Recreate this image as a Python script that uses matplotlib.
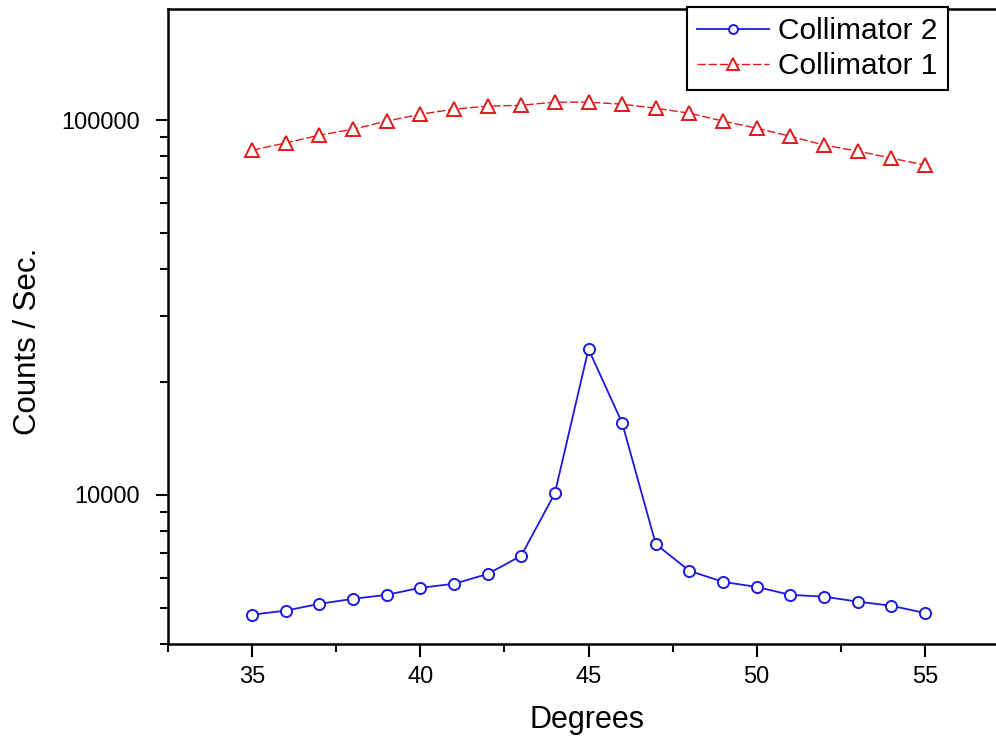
import matplotlib
matplotlib.use("Agg")
import matplotlib.pyplot as plt
from matplotlib.ticker import FixedLocator, LogLocator, NullFormatter, FuncFormatter

plt.rcParams['font.family'] = ['Liberation Sans', 'DejaVu Sans']

degrees = [35, 36, 37, 38, 39, 40, 41, 42, 43, 44, 45, 46, 47, 48, 49, 50, 51, 52, 53, 54, 55]
collimator2 = [4790, 4910, 5120, 5280, 5410, 5650, 5790, 6150, 6880, 10100, 24500, 15560,
               7390, 6270, 5860, 5680, 5410, 5350, 5190, 5060, 4840]
collimator1 = [83200, 86900, 91200, 94600, 99400, 103700, 107000, 109000, 109600, 111700,
               111700, 110300, 107600, 104400, 99400, 95200, 90600, 85800, 82700, 79200, 75900]
x_major = [35, 40, 45, 50, 55]
y_major = [10000, 100000]

W, H = 996, 740
fig = plt.figure(figsize=(W / 100, H / 100), dpi=100)
left, right, top, bottom = 168, 1009, 9, 644
ax = fig.add_axes([left / W, (H - bottom) / H, (right - left) / W, (bottom - top) / H])

l2, = ax.plot(degrees, collimator2, color='#1a1adf', lw=1.3, marker='o', markersize=8,
              markerfacecolor='white', markeredgecolor='#1a1adf', markeredgewidth=1.4,
              label='Collimator 2')
l1, = ax.plot(degrees, collimator1, color='#e01a1a', lw=1.0, ls=(0, (6, 2)), marker='^', markersize=10,
              markerfacecolor='white', markeredgecolor='#e01a1a', markeredgewidth=1.4,
              label='Collimator 1')

ax.set_yscale('log')
ax.set_xlim(32.5, 57.5)
ax.set_ylim(4000, 198000)

ax.xaxis.set_major_locator(FixedLocator(x_major))
ax.xaxis.set_minor_locator(FixedLocator([32.5, 37.5, 42.5, 47.5, 52.5, 57.5]))
ax.yaxis.set_major_locator(FixedLocator(y_major))
ax.yaxis.set_minor_locator(LogLocator(base=10, subs=[2, 3, 4, 5, 6, 7, 8, 9]))
ax.yaxis.set_minor_formatter(NullFormatter())
ax.yaxis.set_major_formatter(FuncFormatter(lambda v, p: f"{int(round(v))}"))

ax.tick_params(axis='both', which='major', direction='out', length=9, width=1.5,
               labelsize=17, colors='black')
ax.tick_params(axis='both', which='minor', direction='out', length=6, width=1.5)
ax.tick_params(axis='x', which='major', pad=7)
ax.tick_params(axis='y', which='major', pad=11)

for s in ['left', 'bottom', 'top']:
    ax.spines[s].set_linewidth(1.8)
ax.spines['right'].set_visible(False)

ax.set_xlabel('Degrees', fontsize=22)
ax.set_ylabel('Counts / Sec.', fontsize=22.5)
ax.xaxis.set_label_coords((587 - left) / (right - left), (bottom - 720) / (bottom - top),
                          transform=ax.transAxes)
ax.yaxis.set_label_coords((28 - left) / (right - left), (bottom - 341) / (bottom - top),
                          transform=ax.transAxes)
ax.xaxis.label.set_va('center')
ax.yaxis.label.set_va('center')

leg = ax.legend(handles=[l2, l1], loc='upper left',
                bbox_to_anchor=(687 / W, 1 - 7 / H), bbox_transform=fig.transFigure,
                borderaxespad=0, fontsize=21.5, fancybox=False, framealpha=1,
                edgecolor='black', handlelength=2.4, handletextpad=0.3,
                borderpad=0.35, labelspacing=0.22, markerscale=0.8)
leg.get_frame().set_linewidth(1.5)

fig.savefig('out.png', dpi=100, facecolor='white')
